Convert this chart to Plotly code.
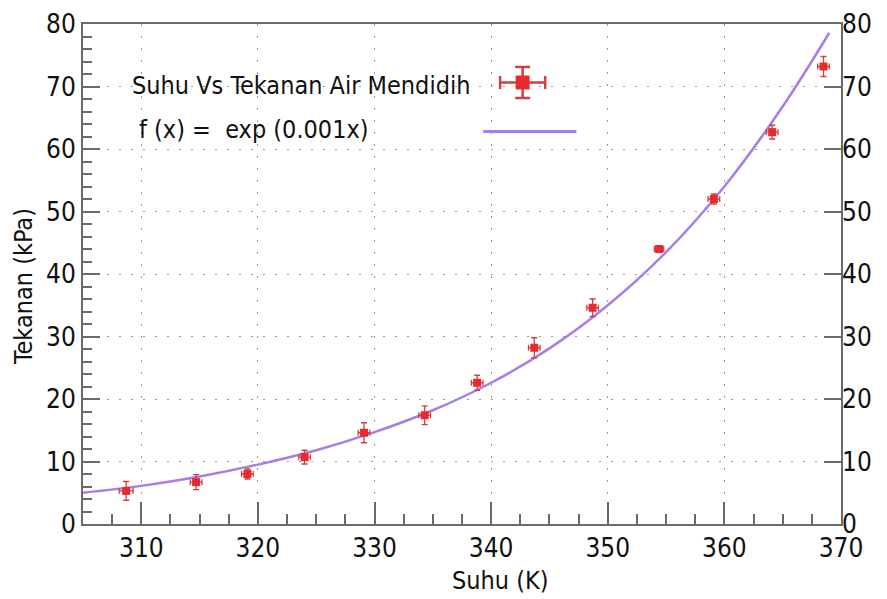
import plotly.graph_objects as go

# Data points
suhu = [308.7, 314.7, 319.1, 324.0, 329.1, 334.3, 338.8, 343.7, 348.7, 354.4, 359.1, 364.1, 368.5]
tekanan = [5.3, 6.7, 8.0, 10.7, 14.6, 17.4, 22.6, 28.2, 34.6, 44.0, 52.0, 62.7, 73.2]
err_suhu = [0.6, 0.5, 0.5, 0.5, 0.5, 0.5, 0.5, 0.5, 0.5, 0.4, 0.5, 0.5, 0.5]
err_tekanan = [1.5, 1.2, 0.8, 1.1, 1.6, 1.5, 1.2, 1.6, 1.4, 0.5, 0.8, 1.1, 1.6]

# Fit curve samples
fit_x = [305, 310, 315, 320, 325, 330, 335, 340, 345, 350, 355, 360, 365, 369.0]
fit_y = [5.0, 6.1, 7.6, 9.5, 11.8, 14.7, 18.2, 22.6, 28.1, 35.0, 43.5, 54.0, 66.8, 78.6]

x_ticks = [310, 320, 330, 340, 350, 360, 370]
y_ticks = [0, 10, 20, 30, 40, 50, 60, 70, 80]

RED = "#e82a2e"
ERR = "#d04040"
PURPLE = "#a77de8"
AXIS = "#6a6a6a"
GRID = "#9a9a9a"
FONT = "DejaVu Sans Condensed, DejaVu Sans, sans-serif"

fig = go.Figure()
fig.add_trace(go.Scatter(
    x=fit_x, y=fit_y, mode="lines", line=dict(color=PURPLE, width=2.5, shape="spline"),
    showlegend=False, hoverinfo="skip"))
fig.add_trace(go.Scatter(
    x=suhu, y=tekanan, mode="markers",
    marker=dict(symbol="square", size=8, color=RED),
    error_x=dict(type="data", array=err_suhu, color=ERR, thickness=1.3, width=3),
    error_y=dict(type="data", array=err_tekanan, color=ERR, thickness=1.3, width=3),
    showlegend=False))
# invisible trace so the right-hand axis is drawn
fig.add_trace(go.Scatter(x=[fit_x[0]], y=[fit_y[0]], yaxis="y2", mode="markers",
                         marker=dict(opacity=0), showlegend=False, hoverinfo="skip"))

PW, PH = 758, 500
fig.update_layout(
    width=879, height=591,
    margin=dict(l=75, r=879 - 75 - PW, t=16, b=591 - 16 - PH),
    paper_bgcolor="white", plot_bgcolor="white",
    font=dict(family=FONT, color="#111"),
    xaxis=dict(range=[305, 370], tickvals=x_ticks, ticks="inside", ticklen=22, tickwidth=2,
               tickcolor=AXIS, showline=True, linecolor=AXIS, linewidth=2, mirror=True,
               showgrid=True, gridcolor=GRID, griddash="2px,10px", gridwidth=1.2,
               tickfont=dict(size=26), zeroline=False, automargin=False,
               minor=dict(dtick=2.5, ticks="inside", ticklen=10, tickcolor=AXIS, tickwidth=2, showgrid=False)),
    yaxis=dict(range=[0, 80], tickvals=y_ticks, ticks="inside", ticklen=17, tickwidth=2,
               tickcolor=AXIS, showline=True, linecolor=AXIS, linewidth=2, mirror=True,
               showgrid=True, gridcolor=GRID, griddash="2px,10px", gridwidth=1.2,
               tickfont=dict(size=26), zeroline=False, automargin=False,
               minor=dict(dtick=2, ticks="inside", ticklen=9, tickcolor=AXIS, tickwidth=2, showgrid=False)),
    yaxis2=dict(range=[0, 80], tickvals=y_ticks, overlaying="y", side="right", ticks="inside",
                ticklen=17, tickwidth=2, tickcolor=AXIS, showline=False, showgrid=False,
                zeroline=False, automargin=False, tickfont=dict(size=26)),
)

# Axis titles
fig.add_annotation(x=(500 - 83) / PW, y=-(580 - 524) / PH, xref="paper", yref="paper",
                   xanchor="center", yanchor="middle", text="Suhu (K)", showarrow=False,
                   font=dict(size=25))
fig.add_annotation(x=-(83 - 23) / PW, y=(524 - 287) / PH, xref="paper", yref="paper",
                   xanchor="center", yanchor="middle", text="Tekanan (kPa)", textangle=-90,
                   showarrow=False, font=dict(size=25))

# Legend (manual, ROOT style)
fig.add_annotation(x=0.0616, y=0.878, xref="paper", yref="paper", xanchor="left", yanchor="middle",
                   text="Suhu Vs Tekanan Air Mendidih", showarrow=False, font=dict(size=25))
fig.add_annotation(x=0.0708, y=0.788, xref="paper", yref="paper", xanchor="left", yanchor="middle",
                   text="f (x) =  exp (0.001x)", showarrow=False, font=dict(size=25))
cx, cy = 0.580, 0.883
hx, hy = 0.0297, 0.031
cap_x, cap_y = 0.0099, 0.013
for shp in [
    dict(type="line", x0=cx - hx, x1=cx + hx, y0=cy, y1=cy),
    dict(type="line", x0=cx, x1=cx, y0=cy - hy, y1=cy + hy),
    dict(type="line", x0=cx - hx, x1=cx - hx, y0=cy - cap_y, y1=cy + cap_y),
    dict(type="line", x0=cx + hx, x1=cx + hx, y0=cy - cap_y, y1=cy + cap_y),
    dict(type="line", x0=cx - cap_x, x1=cx + cap_x, y0=cy + hy, y1=cy + hy),
    dict(type="line", x0=cx - cap_x, x1=cx + cap_x, y0=cy - hy, y1=cy - hy),
]:
    fig.add_shape(xref="paper", yref="paper", line=dict(color=ERR, width=2.5), **shp)
fig.add_shape(type="rect", xref="paper", yref="paper", x0=cx - 0.0092, x1=cx + 0.0092,
              y0=cy - 0.014, y1=cy + 0.014, fillcolor=RED, line=dict(width=0))
fig.add_shape(type="line", xref="paper", yref="paper", x0=0.528, x1=0.651, y0=0.785, y1=0.785,
              line=dict(color=PURPLE, width=3))

fig.write_html("out.html")
